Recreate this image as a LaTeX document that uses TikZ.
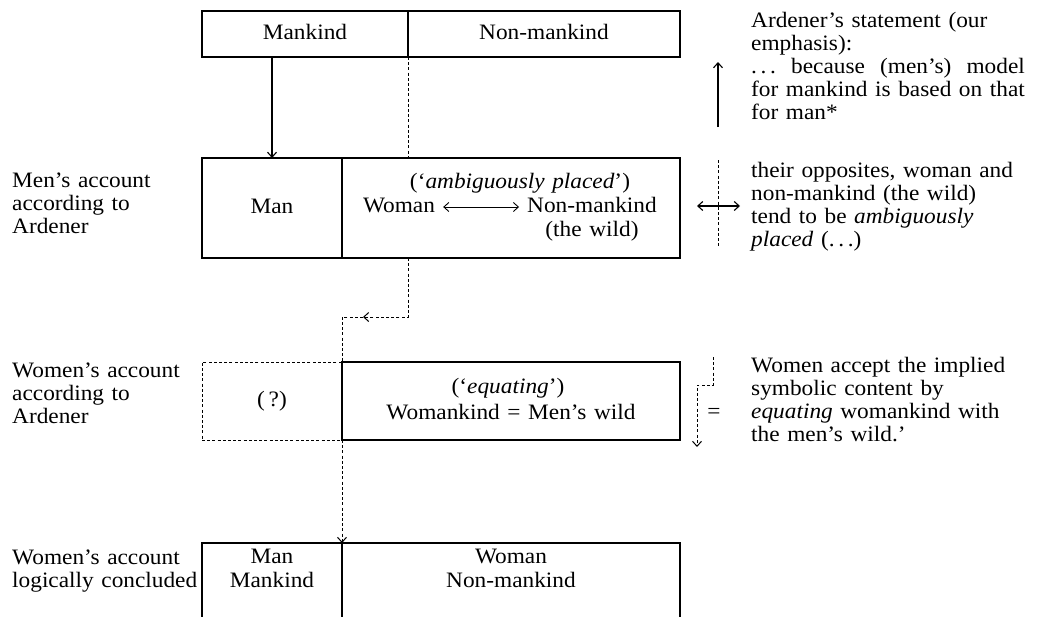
\documentclass[tikz,border=0pt]{standalone}
\usepackage{fontspec}
\setmainfont{Liberation Serif}[FakeStretch=1.06,WordSpace=1.3]
\usepackage{calc}
\usetikzlibrary{arrows.meta,decorations.markings}
\begin{document}
\fontsize{22}{23}\selectfont
\begin{tikzpicture}[x=1pt,y=-1pt,
  >={Straight Barb[length=5pt,width=9pt]},
  ln/.style={line width=1.1pt},
  dsh/.style={line width=1pt,dash pattern=on 3pt off 2.2pt},
  box/.style={draw,ln,inner sep=0pt,outer sep=0pt},
  dbox/.style={draw,dsh,inner sep=0pt,outer sep=0pt},
  txt/.style={inner sep=0pt,text height=0.7em,text depth=0.2em},
  blk/.style={inner sep=0pt,align=left,anchor=north west}]
\useasboundingbox (0,0) rectangle (1043,616);

% ---- top box
\node[box,minimum width=206pt,minimum height=46pt] (t1) at (305,34) {};
\node[box,minimum width=272pt,minimum height=46pt] (t2) at (544,34) {};
\node[txt] (mk) at (305,34) {Mankind};
\node[txt] (nmk) at (544,34) {Non-mankind};

% ---- men's account box
\node[box,minimum width=140pt,minimum height=100pt] (b2l) at (272,208) {};
\node[box,minimum width=338pt,minimum height=100pt] (b2r) at (511,208) {};
\node[txt] (man2) at (272,208) {Man};
\node[txt] (amb) at (520,183) {(‘\textit{ambiguously placed}’)};
\node[txt] (wo2) at (399,207) {Woman};
\node[txt] (nm2) at (592,207) {Non-mankind};
\node[txt] (wild2) at (592,231) {(the wild)};
\draw[line width=0.9pt,<->] ([xshift=8pt]wo2.east) -- ([xshift=-8pt]nm2.west);

% ---- women's account box
\node[dbox,minimum width=140pt,minimum height=78pt] (b3l) at (272,401) {};
\node[box,minimum width=338pt,minimum height=78pt] (b3r) at (511,401) {};
\node[txt] (q3) at (272,401) {(\,?)};
\node[txt] (eq3) at (508,388) {(‘\textit{equating}’)};
\node[txt] (wk3) at (511,414) {Womankind = Men’s wild};

% ---- concluded box (its lower edge is cut off by the page)
\node[box,minimum width=140pt,minimum height=80pt] (b4l) at (272,583) {};
\node[box,minimum width=338pt,minimum height=80pt] (b4r) at (511,583) {};
\node[txt] (man4) at (272,558) {Man};
\node[txt] (mkd4) at (272,582) {Mankind};
\node[txt] (wo4) at (511,558) {Woman};
\node[txt] (nmk4) at (511,582) {Non-mankind};

% ---- connectors between boxes
\draw[ln,->] (b2l.north |- t1.south) -- (b2l.north);
\draw[dsh] (t1.south east) -- (t1.south east |- b2r.north);
\coordinate (k1) at (408,317);
\draw[dsh,postaction={decorate},
  decoration={markings,mark=at position 104pt with {\arrow[line width=1pt]{>}}}]
  (t1.south east |- b2r.south) -- (k1) -| (b3r.north west);
\draw[dsh,->] (b3r.south west) -- (b4r.north west);

% ---- left labels
\node[blk] (lab2) at (12,173) {Men’s account\\according to\\Ardener};
\node[blk] (lab3) at (12,363) {Women’s account\\according to\\Ardener};
\node[blk] (lab4) at (12,550) {Women’s account\\logically concluded};

% ---- right side symbols
\coordinate (u1) at (718,127);
\coordinate (u2) at (718,62);
\draw[ln,->] (u1) -- (u2);
\coordinate (d1) at (718,160);
\coordinate (d2) at (718,248);
\draw[dsh] (d1) -- (d2);
\coordinate (h1) at (697,206);
\coordinate (h2) at (740,206);
\draw[ln,<->] (h1) -- (h2);
\coordinate (e1) at (713,357);
\coordinate (e2) at (697,385);
\coordinate (e3) at (697,447);
\draw[dsh,->] (e1) |- (e2) -- (e3);
\node[txt] (eqs) at (714,413) {=};

% ---- right texts
\node[blk] (r1) at (751,12) {Ardener’s statement (our\\emphasis):\\\makebox[\widthof{for mankind is based on that}][s]{.\,.\,.\ because (men’s) model}\\for mankind is based on that\\for man*};
\node[blk] (r2) at (751,162) {their opposites, woman and\\non-mankind (the wild)\\tend to be \textit{ambiguously}\\\textit{placed} (.\,.\,.)};
\node[blk] (r3) at (751,357) {Women accept the implied\\symbolic content by\\\textit{equating} womankind with\\the men’s wild.’};
\end{tikzpicture}
\end{document}
